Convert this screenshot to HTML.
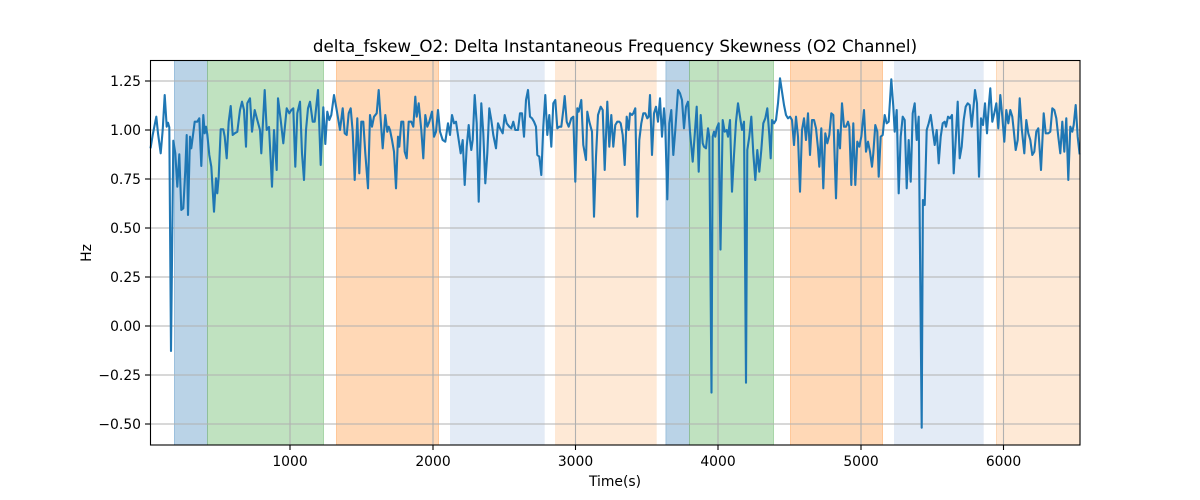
<!DOCTYPE html>
<html>
<head>
<meta charset="utf-8">
<style>
html,body{margin:0;padding:0;background:#fff;}
svg{display:block;}
text{font-family:"DejaVu Sans","Liberation Sans",sans-serif;fill:#000;}
</style>
</head>
<body>
<svg width="1200" height="500" viewBox="0 0 1200 500" xmlns="http://www.w3.org/2000/svg">
<rect x="0" y="0" width="1200" height="500" fill="#fff"/>
<!-- bands -->
<g>
<rect x="174" y="60.5" width="33.3" height="384.5" fill="#bad3e7"/>
<line x1="174.5" y1="60.5" x2="174.5" y2="445" stroke="#9cc0dd" stroke-width="1"/>
<rect x="207.3" y="60.5" width="116.4" height="384.5" fill="#c0e2c0"/>
<line x1="207.5" y1="60.5" x2="207.5" y2="445" stroke="#8fbf9a" stroke-width="1"/>
<line x1="323.5" y1="60.5" x2="323.5" y2="445" stroke="#a8d6a8" stroke-width="1"/>
<rect x="336" y="60.5" width="102.7" height="384.5" fill="#ffd8b6"/>
<line x1="336.5" y1="60.5" x2="336.5" y2="445" stroke="#ffc899" stroke-width="1"/>
<line x1="438.5" y1="60.5" x2="438.5" y2="445" stroke="#ffc899" stroke-width="1"/>
<rect x="450" y="60.5" width="94.7" height="384.5" fill="#e3ebf6"/>
<rect x="555" y="60.5" width="101.7" height="384.5" fill="#fee9d6"/>
<rect x="665.7" y="60.5" width="23.3" height="384.5" fill="#bad3e7"/>
<line x1="666" y1="60.5" x2="666" y2="445" stroke="#9cc0dd" stroke-width="1"/>
<rect x="689" y="60.5" width="84.7" height="384.5" fill="#c0e2c0"/>
<line x1="689.5" y1="60.5" x2="689.5" y2="445" stroke="#8fbf9a" stroke-width="1"/>
<line x1="773.5" y1="60.5" x2="773.5" y2="445" stroke="#a8d6a8" stroke-width="1"/>
<rect x="790" y="60.5" width="92.7" height="384.5" fill="#ffd8b6"/>
<line x1="790.5" y1="60.5" x2="790.5" y2="445" stroke="#ffc899" stroke-width="1"/>
<line x1="882.5" y1="60.5" x2="882.5" y2="445" stroke="#ffc899" stroke-width="1"/>
<rect x="894" y="60.5" width="89.7" height="384.5" fill="#e3ebf6"/>
<rect x="996" y="60.5" width="84" height="384.5" fill="#fee9d6"/>
<line x1="996.5" y1="60.5" x2="996.5" y2="445" stroke="#fdd9b8" stroke-width="1"/>
</g>
<!-- grid -->
<g stroke="#b0b0b0" stroke-width="1.1">
<line x1="290" y1="60.5" x2="290" y2="445"/>
<line x1="433" y1="60.5" x2="433" y2="445"/>
<line x1="575.5" y1="60.5" x2="575.5" y2="445"/>
<line x1="718" y1="60.5" x2="718" y2="445"/>
<line x1="861" y1="60.5" x2="861" y2="445"/>
<line x1="1003.5" y1="60.5" x2="1003.5" y2="445"/>
<line x1="150" y1="81" x2="1080" y2="81"/>
<line x1="150" y1="130" x2="1080" y2="130"/>
<line x1="150" y1="179" x2="1080" y2="179"/>
<line x1="150" y1="228" x2="1080" y2="228"/>
<line x1="150" y1="277" x2="1080" y2="277"/>
<line x1="150" y1="326" x2="1080" y2="326"/>
<line x1="150" y1="375" x2="1080" y2="375"/>
<line x1="150" y1="424" x2="1080" y2="424"/>
</g>
<!-- data line -->
<polyline fill="none" stroke="#1f77b4" stroke-width="2.1" stroke-linejoin="round" stroke-linecap="square" points="
150.7,147.3 152.7,135 156.3,116.7 158,133.3 160.7,153.3 162.7,130 164.7,95 166.7,126.7 168,122.7 169.3,127.3 171,351 173.3,140.7 175.3,153.3 177.3,186.7 179.3,154.3 181.3,210 183.3,208.3 185.3,170 186.7,135 188,215 190,136.7 191.3,148.3 194.7,121.7 197.3,121.7 199.3,118.3 201.3,166 203.3,115 204.7,133.3 206,126.7 207.3,134.3 209.3,155 211.3,166.7 214,211.7 216,178.3 217.3,193.3 218.7,176.7 220.7,129.3 223.3,129.3 224.7,136.7 226.7,158.3 228.7,121.7 230.7,106 232.7,135 234.7,133.3 237.3,131.7 240,110 242,101.7 244,110 246,146.7 247.3,103.3 250,98.3 252,131.7 254.7,110 257.3,120 260,130 261.3,153.3 264.7,90 266.7,130 269,127 272,186.7 274,130 276.7,170 278,98.3 280.7,120 283.3,143.3 286.7,108.3 289.3,113.3 291.3,110 293.3,108.3 295.3,166.7 297.3,113.3 300,101.7 302,153.3 304,180 306,130 308,108.3 310,101.7 312.7,121.7 314.7,121.7 318,90 320.7,165 323.3,107.3 325.3,144 327.3,111.7 329.3,120 331.3,115 334,95 336.7,110 340,130 342.7,108.3 344.7,133.3 346.7,135 348.7,113.3 350.7,108.3 352.7,131.7 354.7,180 357.3,118.3 359.3,173.3 361.3,121.7 363.3,121.7 365.3,153.3 368,188.3 370,115 372,126.7 374,116.7 376.7,113.3 378.7,90 380.7,120 382.7,148.3 385.3,115 387.3,131.7 388.7,126.7 390,130 392,140 394,151.7 396,188.3 398,136.7 399.3,146.7 401.3,121.7 403.3,121.7 404.7,151.7 406.7,158.3 408.7,121.7 411.3,121.7 413.3,126.7 415.3,96.7 416.7,116.7 418.7,103.3 421.3,130 423.3,158.3 425.3,115 427.3,126.7 429.3,121.7 432,111.7 434,136.7 436,131.7 438,110 440,131.7 442.7,140 445.3,141.7 448,123.3 450,135 452,115 454,123.3 456,121.7 458.7,140 460.7,153.3 462.7,140 464.7,185 466.7,146.7 468.7,125 470,140 471.3,150 472.7,140 474.7,95 476.7,123.3 478.7,201.7 481.3,103.3 483.3,133.3 485.3,183.3 487.3,153.3 489.3,108.3 491.3,120 493.3,135 496,148.3 498,123.3 500,128.3 502.7,133.3 504.7,115 506.7,123.3 509.3,126.7 511.3,128.3 513.3,121.7 515.3,130 518,130 520,113.3 522,113.3 524,136.7 526,100 528,90 530,116.7 532,118.3 534,121.7 536,126.7 537.3,155 539.3,156.7 541.3,175 543.3,126.7 545.3,95 547.3,135 549.3,115 551.3,146.7 553.3,103.3 555.3,100 557.3,128.3 559.3,126.7 561.3,126.7 563.3,110 564.7,96 566.7,121.7 568.7,126.7 571.3,118.3 573.3,116.7 575.3,181.7 577.3,108.3 578.7,111.7 581.3,100 583.3,145 586,160 587.3,111.7 589.3,121.7 592,131.7 594,216.7 596,156.7 598,115 600.7,106.7 602.7,110 604.7,170 607.3,101.7 609.3,146.7 611.3,115 613.3,146.7 615.3,125 617.3,121.7 619.3,121.7 620.7,123.3 622.7,135 624.7,165 626.7,116.7 628.7,130 630,113.3 632,115 633.3,113.3 635.3,108.3 637.3,216.7 639.3,140 641.3,123.3 643.3,113.3 645.3,113.3 647.3,118.3 648.7,116.7 650,95 652,155 654,113.3 656,106.7 658,121.7 660,98.3 662,136.7 664,108.3 665.3,126.7 667.3,199.3 669.3,123.3 671.3,110 673.3,155 675.3,130 678,90 680,93.3 682,100 684,128.3 686,106.7 688,101.7 690,131.7 692.7,161.7 694.7,135 696.7,106.7 698.7,171.7 700.7,115 702.7,143.3 704,146.7 706,148.3 708,128.3 709.3,136.7 711.5,392.6 712.7,136.7 714,131.7 715.3,136.7 716.7,128.3 718.7,123.3 720.5,249.6 722.7,120 724.7,131.7 726.7,130 728,136.7 730,120 732,191.7 734,155 736,121.7 738,103.3 740,116.7 742,130 744,121.7 746,382.7 747.3,150 749.3,136.7 751.3,116.7 753.3,153.3 755.3,180 757.3,150 759.3,171.7 761.3,150 763.3,123.3 765.3,118.3 767.3,108.3 769.3,135 770.7,158.3 772,120 774,123.3 776,120 778,103.3 780,78.3 782,91.7 784,105 786,115 788,118.3 790,116.7 792,120 794,145 796,116.7 798,136.7 800,191.7 802,130 804,118.3 806,140 808,113.3 810,155 812,120 814,120 816,128.3 818,148.3 819.3,166.7 821.3,128.3 823.3,188.3 825.3,133.3 827.3,143.3 829.3,135 831.3,113.3 833.3,115 836,198.3 838,130 840,148.3 842,103.3 844,126.7 846,126.7 848,121.7 849.3,126.7 851.3,185 853.3,123.3 855.3,185 857.3,141.7 859.3,146.7 861.3,136.7 864,110 866,151.7 868,141.7 870,151.7 872,166.7 873.3,153.3 875.3,125 877.3,131.7 878.7,176.7 880.7,136.7 882.7,135 884.7,115 886.7,123.3 888.7,121.7 891.3,79.3 893.3,106.7 894.7,131.7 896.7,110 898.7,193.3 900.7,136.7 902.7,116.7 904.7,120 906.7,188.3 908.7,140 910.7,181.7 912.7,113.3 914.7,103.3 916.7,140 918.7,116.7 921.7,427.7 922.9,200 924.7,205 926.7,130 928.7,123.3 930.7,115 932.7,130 934.7,145 936.7,130 938.7,163.3 940.7,136.7 942.7,123.3 944.7,121.7 946,126.7 948,116.7 950,118.3 952,115 953.7,173.3 955.7,140 957.7,101.7 959.7,158.3 961.7,146.7 963.7,120 965.7,106.7 967.7,103.3 969.7,105 971.7,126.7 973.7,105 975,90 977,103.3 979,176.7 981,118.3 983,125 985,103.3 987,133.3 989,103.3 990.3,88.3 992.3,121.7 994.3,113.3 996.3,103.3 998.3,128.3 1000.3,95 1002.3,116.7 1004.3,141.7 1006.3,110 1008.3,123.3 1010.3,110 1012.3,116.7 1013.7,130 1015.7,150 1017.7,140 1019.7,98.3 1021.7,128.3 1024.3,153.3 1026.3,120 1028.3,133.3 1030.3,140 1032.3,155 1034.3,151.7 1036.3,131.7 1038.3,128.3 1041,170 1043.7,113.3 1045.7,133.3 1048.3,133.3 1050.3,131.7 1052.3,108.3 1054.3,110 1056.3,118.3 1058.3,136.7 1060.3,153.3 1062.3,121.7 1064.3,151.7 1066.3,118.3 1068.3,180 1070.3,126.7 1072.3,131.7 1073.7,125 1075.7,105 1077.7,136.7 1079.5,153.3"/>
<!-- axes frame -->
<rect x="150.5" y="60.5" width="929.5" height="384.5" fill="none" stroke="#000" stroke-width="1.1"/>
<!-- ticks -->
<g stroke="#000" stroke-width="1.1">
<line x1="290" y1="445" x2="290" y2="450"/>
<line x1="433" y1="445" x2="433" y2="450"/>
<line x1="575.5" y1="445" x2="575.5" y2="450"/>
<line x1="718" y1="445" x2="718" y2="450"/>
<line x1="861" y1="445" x2="861" y2="450"/>
<line x1="1003.5" y1="445" x2="1003.5" y2="450"/>
<line x1="145" y1="81" x2="150" y2="81"/>
<line x1="145" y1="130" x2="150" y2="130"/>
<line x1="145" y1="179" x2="150" y2="179"/>
<line x1="145" y1="228" x2="150" y2="228"/>
<line x1="145" y1="277" x2="150" y2="277"/>
<line x1="145" y1="326" x2="150" y2="326"/>
<line x1="145" y1="375" x2="150" y2="375"/>
<line x1="145" y1="424" x2="150" y2="424"/>
</g>
<g font-size="13.9px" text-anchor="middle">
<text x="290" y="466">1000</text>
<text x="433" y="466">2000</text>
<text x="575.5" y="466">3000</text>
<text x="718" y="466">4000</text>
<text x="861" y="466">5000</text>
<text x="1003.5" y="466">6000</text>
</g>
<g font-size="13.9px" text-anchor="end">
<text x="141" y="86">1.25</text>
<text x="141" y="135">1.00</text>
<text x="141" y="184">0.75</text>
<text x="141" y="233">0.50</text>
<text x="141" y="282">0.25</text>
<text x="141" y="331">0.00</text>
<text x="141" y="380">−0.25</text>
<text x="141" y="429">−0.50</text>
</g>
<text x="615" y="486" font-size="13.9px" text-anchor="middle">Time(s)</text>
<text x="91" y="253" font-size="13.9px" text-anchor="middle" transform="rotate(-90 91 253)">Hz</text>
<text x="615" y="52" font-size="16.7px" text-anchor="middle">delta_fskew_O2: Delta Instantaneous Frequency Skewness (O2 Channel)</text>
</svg>
</body>
</html>
